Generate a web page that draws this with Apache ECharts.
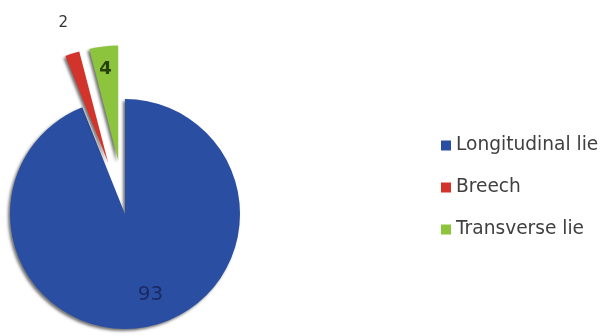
<!DOCTYPE html>
<html>
<head>
<meta charset="utf-8">
<script src="https://cdn.jsdelivr.net/npm/echarts@6/dist/echarts.min.js"></script>
<style>
  html, body { margin: 0; padding: 0; background: #ffffff; }
  #chart { width: 606px; height: 336px; }
</style>
</head>
<body>
<div id="chart"></div>
<script>
// Fetal presentation counts
const categories = ['Longitudinal lie', 'Breech', 'Transverse lie'];
const counts = [93, 2, 4];
const exploded = [false, true, true];
const sliceColors = ['#2a4ea2', '#d2342b', '#8cc43e'];
const labelColors = ['#1b2a63', '#333333', '#26410c'];
const labelSizes = [20, 15, 18];
const labelWeights = ['normal', 'normal', 'bold'];
// nudges from the default inside spot of each label
const labelShift = [[14, 21], [-26, -82], [-5, -31]];

const chart = echarts.init(document.getElementById('chart'), null, { renderer: 'canvas' });

const data = categories.map((name, i) => ({
  name: name,
  value: counts[i],
  selected: exploded[i],
  itemStyle: { color: sliceColors[i] },
  label: {
    color: labelColors[i],
    fontSize: labelSizes[i],
    fontWeight: labelWeights[i]
  }
}));

chart.setOption({
  backgroundColor: '#ffffff',
  animation: false,
  legend: {
    orient: 'vertical',
    left: 436,
    top: 131,
    itemWidth: 10,
    itemHeight: 10,
    itemGap: 23,
    icon: 'rect',
    selectedMode: false,
    data: categories,
    textStyle: {
      fontFamily: 'DejaVu Sans',
      fontSize: 18.6,
      color: '#404040'
    }
  },
  series: [{
    type: 'pie',
    center: [125, 214],
    radius: [0, 115],
    startAngle: 90,
    clockwise: true,
    selectedMode: 'multiple',
    selectedOffset: 54,
    silent: true,
    itemStyle: {
      borderWidth: 0,
      shadowColor: 'rgba(0,0,0,0.55)',
      shadowBlur: 3,
      shadowOffsetX: -2,
      shadowOffsetY: 2
    },
    label: {
      show: true,
      position: 'inside',
      formatter: '{c}',
      fontFamily: 'DejaVu Sans'
    },
    labelLine: { show: false },
    labelLayout: function (params) {
      const s = labelShift[params.dataIndex];
      return { dx: s[0], dy: s[1] };
    },
    emphasis: { disabled: true },
    select: { disabled: false },
    data: data
  }]
});
</script>
</body>
</html>
